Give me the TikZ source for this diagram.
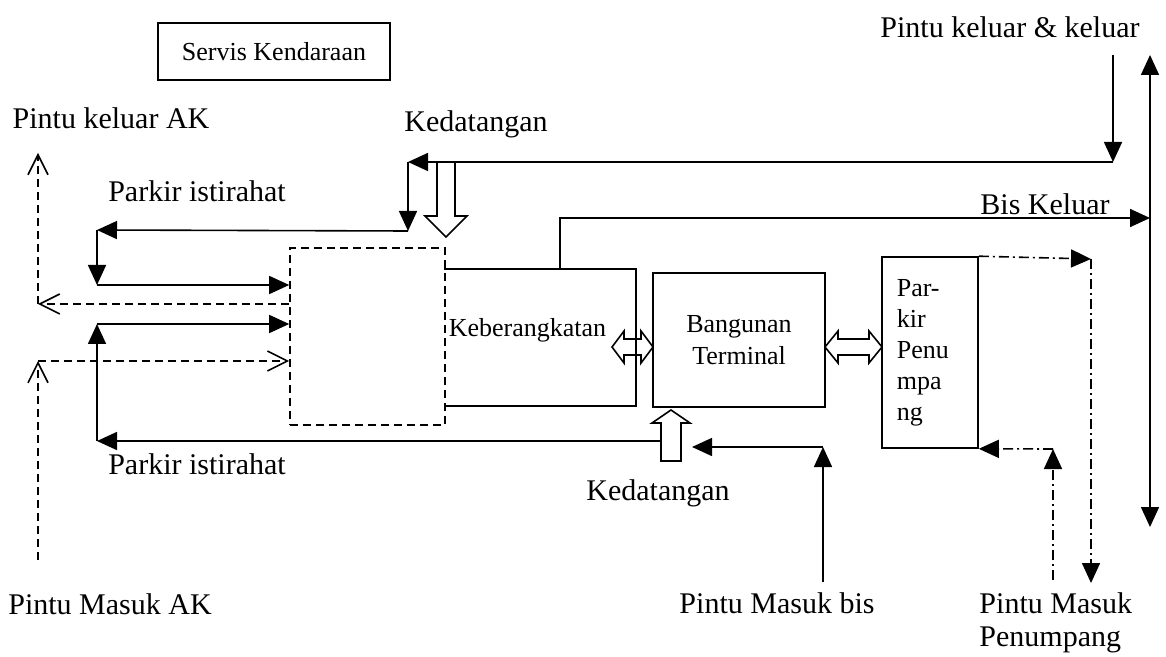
\documentclass[tikz,border=0pt]{standalone}
\usepackage{fontspec}
\setmainfont{Liberation Serif}
\usetikzlibrary{arrows.meta}

\tikzset{
  box/.style={draw, inner sep=0pt},
  arr/.style={-{Triangle[length=10pt,width=9pt]}},
  darr/.style={{Triangle[length=10pt,width=9pt]}-{Triangle[length=10pt,width=9pt]}},
  dasharr/.style={dash pattern=on 4pt off 2.5pt, -{Straight Barb[length=10pt,width=10pt]}},
  dotarr/.style={dash pattern=on 5pt off 2pt on 1pt off 2pt, -{Triangle[length=10pt,width=9pt]}},
  intext/.style={font=\fontsize{13}{16}\selectfont},
}

\begin{document}
\begin{tikzpicture}[x=0.5pt,y=-0.5pt,line width=0.8pt,font=\fontsize{15}{18}\selectfont]
\useasboundingbox (0,0) rectangle (1166,657);

% boxes
\node[box, intext, minimum width=116pt, minimum height=28.5pt] (servis) at (274,51.5) {Servis Kendaraan};
\node[draw, dash pattern=on 4pt off 2.5pt, minimum width=77.5pt, minimum height=88.5pt] (areaak) at (367.5,336.5) {};
\node[minimum width=95pt, minimum height=67.5pt] (keb) at (540,337.5) {};
\draw (keb.north west) -- (keb.north east) -- (keb.south east) -- (keb.south west);
\node[anchor=west, inner sep=1pt, intext] (kebtext) at (446,330) {Keberangkatan};
\node[box, intext, minimum width=86pt, minimum height=67pt, align=center] (bangunan) at (739,340) {Bangunan\\Terminal};
\node[box, minimum width=48pt, minimum height=95.5pt] (parkirpnp) at (930,352.5) {};
\node[anchor=north west, align=left, inner sep=0pt, font=\fontsize{13}{15.5}\selectfont] (pnptext) at (896,279) {Par-\\kir\\Penu\\mpa\\ng};

% labels
\node (pkeluar) at (1010,27) {Pintu keluar \& keluar};
\node (kelak) at (111,118) {Pintu keluar AK};
\node (datangatas) at (476,124) {Kedatangan};
\node (istatas) at (197,191) {Parkir istirahat};
\node (biskel) at (1045,204) {Bis Keluar};
\node (istbawah) at (197,464) {Parkir istirahat};
\node (datangbawah) at (658,493) {Kedatangan};
\node (masukak) at (110,604) {Pintu Masuk AK};
\node (masukbis) at (777,603) {Pintu Masuk bis};
\node[anchor=west, align=left, font=\fontsize{15}{16.5}\selectfont] (masukpnp) at (972,623) {Pintu Masuk\\Penumpang};

% coordinates of the circulation lines
\coordinate (r1) at (1113,55);
\coordinate (r2) at (1113,162);
\coordinate (k1) at (408,162);
\coordinate (k2) at (408,231);
\coordinate (p1) at (97,230);
\coordinate (p2) at (97,285);
\coordinate (b1) at (97,441);
\coordinate (b2) at (97,324);
\coordinate (u1) at (661,441);
\coordinate (o1) at (38,304);
\coordinate (o2) at (38,153);
\coordinate (i1) at (38,560);
\coordinate (i2) at (38,361);
\coordinate (m1) at (823,582);
\coordinate (m2) at (823,447);
\coordinate (m3) at (692,447);
\coordinate (bk1) at (560,218);
\coordinate (bk2) at (1150,218);
\coordinate (v1) at (1150,55);
\coordinate (v2) at (1150,527);
\coordinate (q1) at (1091,259);
\coordinate (q2) at (1091,583);
\coordinate (e1) at (1053,580);
\coordinate (e2) at (1053,449);

% arrivals from the top and the upper rest parking
\draw[arr] (r1) -- (r2);
\draw[arr] (r2) -- (k1);
\draw[arr] (k1) -- (k2);
\draw[arr] (k2) -- (p1);
\draw[arr] (p1) -- (p2);
\draw[arr] (p2) -- (areaak.west |- p2);

% lower rest parking
\draw[arr] (u1) -- (b1);
\draw[arr] (b1) -- (b2);
\draw[arr] (b2) -- (areaak.west |- b2);

% AK gates
\draw[dasharr] (areaak.west |- o1) -- (o1);
\draw[dasharr] (o1) -- (o2);
\draw[dasharr] (i1) -- (i2);
\draw[dasharr] (i2) -- (areaak.west |- i2);

% bus entry and exit
\draw[arr] (m1) -- (m2);
\draw[arr] (m2) -- (m3);
\draw[arr] (keb.north -| bk1) -- (bk1) -- (bk2);
\draw[darr] (v1) -- (v2);

% passenger parking
\draw[dotarr] (parkirpnp.north east) -- (q1);
\draw[dotarr] (q1) -- (q2);
\draw[dotarr] (e1) -- (e2);
\draw[dotarr] (e2) -- (parkirpnp.south east);

% hollow arrows
\draw (437,162) -- (437,216) -- (425,216) -- (446,237) -- (467,216) -- (455,216) -- (455,162);
\draw (661,461) -- (661,423) -- (652,423) -- (671,410) -- (690,423) -- (681,423) -- (681,461) -- cycle;
\draw (612,347) -- (624,331) -- (624,339) -- (641,339) -- (641,331) -- (653,347) -- (641,363) -- (641,355) -- (624,355) -- (624,363) -- cycle;
\draw (825,347) -- (838,331) -- (838,339) -- (869,339) -- (869,331) -- (882,347) -- (869,363) -- (869,355) -- (838,355) -- (838,363) -- cycle;
\end{tikzpicture}
\end{document}
